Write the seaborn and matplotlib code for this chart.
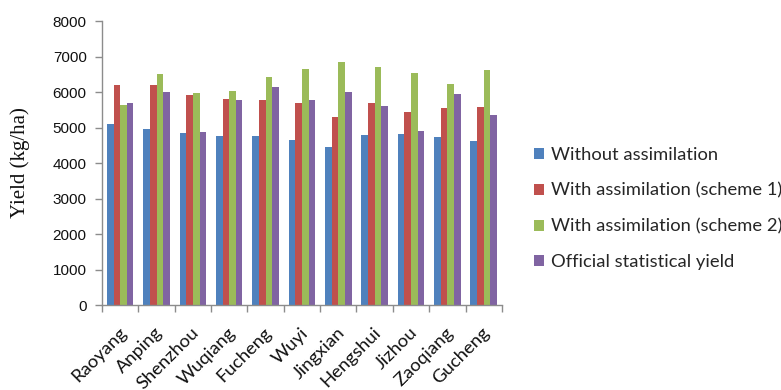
import matplotlib
matplotlib.use("Agg")
import matplotlib.pyplot as plt
from matplotlib.ticker import FixedLocator, MultipleLocator
from matplotlib.transforms import ScaledTranslation
import seaborn as sns
import pandas as pd

counties = ["Raoyang", "Anping", "Shenzhou", "Wuqiang", "Fucheng", "Wuyi",
            "Jingxian", "Hengshui", "Jizhou", "Zaoqiang", "Gucheng"]
without_assim = [5110, 4960, 4860, 4775, 4775, 4660, 4450, 4800, 4830, 4745, 4635]
scheme1 = [6210, 6210, 5920, 5815, 5790, 5700, 5310, 5700, 5440, 5550, 5580]
scheme2 = [5650, 6500, 5965, 6020, 6425, 6640, 6855, 6715, 6525, 6235, 6610]
official = [5700, 5995, 4885, 5790, 6155, 5790, 6000, 5600, 4915, 5945, 5365]

series_names = ["Without assimilation", "With assimilation (scheme 1)",
                "With assimilation (scheme 2)", "Official statistical yield"]
series_values = [without_assim, scheme1, scheme2, official]
colors = ["#4F81BD", "#C0504D", "#9BBB59", "#8064A2"]

rows = []
for name, vals in zip(series_names, series_values):
    for c, v in zip(counties, vals):
        rows.append({"County": c, "Series": name, "Yield": v})
df = pd.DataFrame(rows)

sns.set_style("white")
plt.rcParams["font.family"] = ["Liberation Sans", "DejaVu Sans"]

fig = plt.figure(figsize=(7.81, 3.90), dpi=100)
ax = fig.add_axes([0.1306, 0.2179, 0.512, 0.728])

sns.barplot(data=df, x="County", y="Yield", hue="Series", order=counties,
            hue_order=series_names, palette=colors, width=0.73,
            saturation=1, errorbar=None, ax=ax, edgecolor="none", linewidth=0)

ax.set_xlim(-0.5, len(counties) - 0.5)
ax.set_ylim(0, 8000)
ax.yaxis.set_major_locator(MultipleLocator(1000))

axis_gray = "#8c8c8c"
for side in ["top", "right"]:
    ax.spines[side].set_visible(False)
for side in ["left", "bottom"]:
    ax.spines[side].set_color(axis_gray)
    ax.spines[side].set_linewidth(1.0)

ax.tick_params(axis="y", direction="out", length=5, width=1, color=axis_gray,
               labelsize=11, labelcolor="#111111", pad=6, left=True)
ax.tick_params(axis="x", which="major", length=0, pad=14, bottom=True)
ax.xaxis.set_minor_locator(FixedLocator([i - 0.5 for i in range(len(counties) + 1)]))
ax.tick_params(axis="x", which="minor", direction="out", length=5, width=1,
               color=axis_gray, bottom=True)

ax.set_xticks(range(len(counties)))
ax.set_xticklabels(counties, rotation=45, ha="right", va="top",
                   rotation_mode="anchor", fontsize=13.3,
                   family=["Lato", "DejaVu Sans"], color="#111111")
shift = ScaledTranslation(-2 / 100, 0, fig.dpi_scale_trans)
for lbl in ax.get_xticklabels():
    lbl.set_transform(lbl.get_transform() + shift)

ax.set_xlabel("")
ax.set_ylabel("Yield (kg/ha)", family=["Liberation Serif", "DejaVu Serif"],
              fontsize=15, color="#111111", labelpad=16)

handles, labels = ax.get_legend_handles_labels()
ax.legend(handles, labels, loc="center left", bbox_to_anchor=(1.063, 0.34),
          frameon=False, prop={"family": ["Lato", "DejaVu Sans"], "size": 13.2},
          handlelength=0.55, handleheight=0.55, handletextpad=0.35,
          labelspacing=1.08, borderaxespad=0)

fig.savefig("out.png", dpi=100)
